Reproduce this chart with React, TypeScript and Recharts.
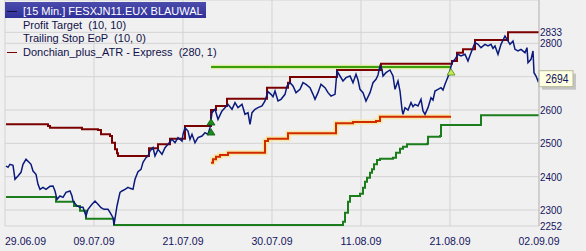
import React from 'react';
import { ComposedChart, Line, Scatter, XAxis, YAxis, CartesianGrid, ReferenceLine } from 'recharts';

// x = bar index along the time axis (0 = 29.06.09 ... 534 = 02.09.09)
const dateTicks = [0, 89, 178, 267, 356, 445, 534];
const dateLabels = ['29.06.09', '09.07.09', '21.07.09', '30.07.09', '11.08.09', '21.08.09', '02.09.09'];
const priceTicks = [2252, 2300, 2400, 2500, 2600, 2700, 2800, 2833];
const lastPrice = 2694;

// [15 Min.] FESXJN11.EUX close
const price: [number, number][] = [
  [1, 2432], [3, 2428], [5, 2437], [8, 2434], [10, 2392], [13, 2402], [16, 2413], [18, 2437],
  [21, 2452], [24, 2443], [26, 2437], [28, 2417], [31, 2407], [33, 2377], [35, 2362], [38, 2368],
  [41, 2362], [45, 2371], [48, 2372], [50, 2357], [52, 2332], [55, 2342], [58, 2338], [61, 2353],
  [65, 2357], [67, 2342], [68, 2327], [72, 2312], [75, 2308], [78, 2308], [81, 2282], [83, 2302],
  [87, 2317], [90, 2327], [93, 2317], [96, 2307], [99, 2302], [103, 2302], [105, 2293], [108, 2277],
  [109, 2255], [112, 2312], [115, 2353], [117, 2357], [120, 2362], [123, 2368], [125, 2365], [128, 2362],
  [130, 2392], [133, 2415], [136, 2422], [138, 2443], [141, 2457], [143, 2462], [145, 2477], [148, 2487],
  [150, 2462], [153, 2482], [157, 2467], [160, 2487], [163, 2497], [167, 2512], [170, 2502], [173, 2517],
  [177, 2507], [178, 2527], [180, 2547], [183, 2537], [185, 2512], [187, 2527], [190, 2502], [193, 2517],
  [197, 2522], [200, 2532], [203, 2527], [205, 2547], [207, 2592], [210, 2602], [213, 2572], [217, 2597],
  [220, 2607], [223, 2617], [227, 2602], [230, 2622], [233, 2607], [237, 2617], [240, 2587], [243, 2592],
  [245, 2557], [247, 2592], [250, 2602], [253, 2607], [257, 2612], [260, 2627], [263, 2655], [266, 2647],
  [268, 2640], [270, 2657], [273, 2627], [276, 2632], [280, 2647], [282, 2672], [285, 2682], [288, 2672],
  [291, 2652], [295, 2662], [298, 2682], [301, 2677], [305, 2667], [308, 2647], [310, 2632], [313, 2652],
  [316, 2677], [320, 2667], [323, 2652], [326, 2642], [330, 2647], [332, 2717], [335, 2702], [338, 2687],
  [341, 2697], [345, 2702], [348, 2682], [351, 2707], [353, 2690], [355, 2662], [358, 2652], [361, 2627],
  [365, 2652], [368, 2682], [371, 2692], [373, 2705], [375, 2732], [377, 2722], [378, 2702], [381, 2712],
  [385, 2720], [388, 2702], [390, 2662], [393, 2687], [395, 2657], [397, 2602], [398, 2587], [400, 2607],
  [403, 2600], [406, 2622], [408, 2610], [410, 2617], [413, 2612], [416, 2632], [418, 2597], [420, 2587],
  [423, 2607], [426, 2637], [428, 2630], [430, 2657], [433, 2662], [436, 2667], [438, 2660], [440, 2677],
  [442, 2692], [444, 2707], [447, 2742], [450, 2752], [453, 2767], [456, 2762], [460, 2767], [463, 2747],
  [466, 2772], [470, 2802], [473, 2797], [476, 2787], [480, 2797], [483, 2792], [486, 2797], [488, 2785],
  [490, 2792], [493, 2767], [496, 2797], [500, 2822], [502, 2812], [505, 2797], [508, 2807], [510, 2782],
  [513, 2777], [516, 2782], [520, 2772], [522, 2787], [523, 2742], [526, 2752], [528, 2777], [529, 2712],
  [531, 2702], [533, 2687], [534, 2694],
];

// Donchian_plus_ATR upper band (steps)
const donchian: [number, number][] = [
  [1, 2557], [43, 2552], [45, 2547], [77, 2542], [93, 2540], [96, 2527], [105, 2522], [107, 2502],
  [110, 2482], [112, 2470], [113, 2462], [144, 2485], [153, 2497], [165, 2514], [180, 2552], [206, 2600],
  [211, 2612], [222, 2634], [262, 2667], [283, 2682], [285, 2699], [332, 2720], [376, 2739], [447, 2747],
  [452, 2772], [458, 2782], [470, 2810], [503, 2833], [534, 2833],
];

// lower stop band (steps)
const lowerBand: [number, number][] = [
  [1, 2339], [51, 2325], [69, 2312], [75, 2298], [81, 2274], [109, 2255], [338, 2265], [340, 2292],
  [343, 2325], [345, 2342], [355, 2349], [358, 2367], [360, 2385], [362, 2397], [365, 2412], [367, 2422],
  [369, 2437], [372, 2450], [375, 2454], [388, 2457], [391, 2472], [395, 2484], [398, 2490], [402, 2497],
  [422, 2499], [423, 2520], [435, 2522], [436, 2555], [476, 2584], [534, 2584],
];

// Profit Target (10, 10)
const profitTarget: [number, number][] = [[206, 2729], [446, 2729]];

// Trailing Stop EoP (10, 0)
const trailingStop: [number, number][] = [
  [206, 2442], [208, 2452], [211, 2460], [215, 2465], [223, 2472], [260, 2507], [263, 2514], [283, 2530],
  [331, 2560], [348, 2564], [371, 2567], [375, 2580], [446, 2580],
];

// entry / exit signals
const entrySignals: [number, number][] = [[206, 2562], [206, 2532]];
const exitSignals: [number, number][] = [[446, 2712]];

const FONT = '"Liberation Sans", Arial, sans-serif';
const TXT = '#14145e';

const toPoints = (pts: [number, number][]) => pts.map(([x, y]) => ({ x, y }));

function DateTick({ x, y, payload }: any) {
  const i = dateTicks.indexOf(payload.value);
  return (
    <text x={x} y={y} dy="0.71em" textAnchor={i === 0 ? 'start' : 'middle'} fontSize={11} fontFamily={FONT}
      fill={TXT} textLength={41} lengthAdjust="spacingAndGlyphs">
      {dateLabels[i]}
    </text>
  );
}

function PriceTick({ x, y, payload }: any) {
  if (payload.value === 2700) return <g />; // sits behind the last price tag
  return (
    <text x={x} y={y} dy="0.355em" textAnchor="start" fontSize={11} fontFamily={FONT} fill={TXT}
      textLength={22} lengthAdjust="spacingAndGlyphs">
      {payload.value}
    </text>
  );
}

function PriceTag({ viewBox }: any) {
  const x = viewBox.x + viewBox.width;
  const y = viewBox.y;
  return (
    <g>
      <rect x={x + 3} y={y - 5} width={34} height={16} fill="#a0a0a0" opacity={0.55} />
      <rect x={x} y={y - 8} width={34} height={16} fill="#ffffe1" stroke="#b8b898" strokeWidth={1} />
      <text x={x + 18} y={y} dy="0.355em" textAnchor="middle" fontSize={12} fontFamily={FONT} fill={TXT}
        textLength={23} lengthAdjust="spacingAndGlyphs">
        {lastPrice}
      </text>
    </g>
  );
}

const triangle = (fill: string, stroke: string, size: number) => (props: any) => {
  const { cx, cy } = props;
  return (
    <path d={`M${cx},${cy - size} L${cx + size},${cy + size * 0.6} L${cx - size},${cy + size * 0.6} Z`}
      fill={fill} stroke={stroke} strokeWidth={0.8} />
  );
};

const legendRows = [
  { text: '[15 Min.] FESXJN11.EUX BLAUWAL', dash: '#101040', active: true },
  { text: 'Profit Target  (10, 10)', dash: '', active: false },
  { text: 'Trailing Stop EoP  (10, 0)', dash: '', active: false },
  { text: 'Donchian_plus_ATR - Express  (280, 1)', dash: '#7b0000', active: false },
];

function ChartLegend() {
  return (
    <div style={{ position: 'absolute', left: 0, top: 0, pointerEvents: 'none' }}>
      {legendRows.map((r, i) => (
        <div key={i} style={{ position: 'absolute', left: 5, top: 4 + i * 13.7, height: 14, whiteSpace: 'nowrap' }}>
          {r.active && (
            <div style={{ position: 'absolute', left: 0, top: -2, width: 201, height: 16,
              background: 'linear-gradient(#4c4cac, #30309a)' }} />
          )}
          {r.dash && (
            <div style={{ position: 'absolute', left: 2, top: 6.5, width: 10, height: 1.5, background: r.dash }} />
          )}
          <span style={{ position: 'absolute', left: 18, top: 0, fontSize: 11, lineHeight: '14px', fontFamily: FONT,
            color: r.active ? '#ffffff' : '#10104a', whiteSpace: 'pre' }}>
            {r.text}
          </span>
        </div>
      ))}
    </div>
  );
}

export default function App() {
  return (
    <div style={{ position: 'absolute', left: 0, top: 0, width: 586, height: 251, background: '#f0f0f0', overflow: 'hidden' }}>
      <ComposedChart width={586} height={251} margin={{ top: 0, right: 0, bottom: 0, left: 5 }}>
        <CartesianGrid stroke="#d3d3d3" />
        <XAxis type="number" dataKey="x" domain={[0, 534]} ticks={dateTicks} interval={0} height={25}
          tickLine={false} tickSize={0} tickMargin={11} axisLine={false} tick={<DateTick />} allowDataOverflow />
        <YAxis type="number" dataKey="y" orientation="right" domain={[2252, 2930]} ticks={priceTicks} interval={0}
          width={47} tickLine={false} tickSize={0} tickMargin={1} axisLine={{ stroke: '#bdbdbd' }}
          tick={<PriceTick />} allowDataOverflow />
        <Line data={toPoints(lowerBand)} dataKey="y" type="stepAfter" stroke="#1b7d1b" strokeWidth={2}
          dot={false} isAnimationActive={false} />
        <Line data={toPoints(trailingStop)} dataKey="y" type="stepAfter" stroke="#f6e6a4" strokeWidth={5}
          dot={false} isAnimationActive={false} />
        <Line data={toPoints(trailingStop)} dataKey="y" type="stepAfter" stroke="#d12a00" strokeWidth={2}
          dot={false} isAnimationActive={false} />
        <Line data={toPoints(profitTarget)} dataKey="y" type="linear" stroke="#d9eb9c" strokeWidth={4.5}
          dot={false} isAnimationActive={false} />
        <Line data={toPoints(profitTarget)} dataKey="y" type="linear" stroke="#3c9e0c" strokeWidth={2}
          dot={false} isAnimationActive={false} />
        <Line data={toPoints(donchian)} dataKey="y" type="stepAfter" stroke="#7b0000" strokeWidth={2}
          dot={false} isAnimationActive={false} />
        <Line data={toPoints(price)} dataKey="y" type="linear" stroke="#0a1a7c" strokeWidth={1.5}
          dot={false} isAnimationActive={false} />
        <Scatter data={toPoints(entrySignals)} dataKey="y" shape={triangle('#1d8a1d', '#0f5a0f', 4)}
          isAnimationActive={false} />
        <Scatter data={toPoints(exitSignals)} dataKey="y" shape={triangle('#c6e85a', '#4a8a10', 4)}
          isAnimationActive={false} />
        <ReferenceLine y={lastPrice} stroke="none" label={<PriceTag />} />
      </ComposedChart>
      <ChartLegend />
    </div>
  );
}
